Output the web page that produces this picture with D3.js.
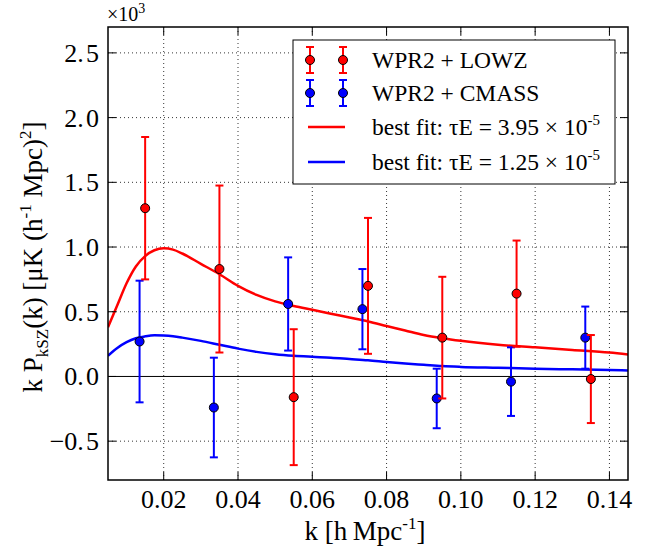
<!DOCTYPE html>
<html>
<head>
<meta charset="utf-8">
<script src="https://cdn.jsdelivr.net/npm/d3@7"></script>
<style>
  body { margin: 0; background: #fff; }
  svg text { font-family: "Liberation Serif", "Times New Roman", "DejaVu Serif", serif; fill: #000; }
</style>
</head>
<body>
<svg id="chart"></svg>
<script>
// ---- data (values in units of 10^3) ----
const kLowz = [0.015, 0.035, 0.055, 0.075, 0.095, 0.115, 0.135];
const pLowz = [1.30, 0.83, -0.16, 0.70, 0.30, 0.64, -0.02];
const eLowz = [0.55, 0.645, 0.525, 0.525, 0.47, 0.41, 0.34];

const kCmass = [0.0135, 0.0335, 0.0535, 0.0735, 0.0935, 0.1135, 0.1335];
const pCmass = [0.27, -0.24, 0.56, 0.52, -0.17, -0.04, 0.30];
const eCmass = [0.47, 0.385, 0.36, 0.31, 0.23, 0.265, 0.24];

// best-fit model curves
const kFit = [0.005, 0.0075, 0.010, 0.0125, 0.015, 0.0175, 0.020, 0.0225, 0.025, 0.030,
  0.035, 0.040, 0.045, 0.050, 0.055, 0.060, 0.065, 0.070, 0.075, 0.080,
  0.085, 0.090, 0.095, 0.100, 0.110, 0.120, 0.130, 0.140, 0.145];
const fitLowz = [0.38, 0.55, 0.72, 0.85, 0.93, 0.975, 0.99, 0.98, 0.95, 0.87,
  0.79, 0.70, 0.63, 0.58, 0.545, 0.515, 0.485, 0.455, 0.425, 0.39,
  0.355, 0.32, 0.295, 0.275, 0.245, 0.225, 0.205, 0.185, 0.17];
const fitCmass = [0.16, 0.22, 0.265, 0.295, 0.31, 0.318, 0.316, 0.31, 0.30, 0.275,
  0.245, 0.215, 0.19, 0.172, 0.16, 0.152, 0.145, 0.135, 0.125, 0.112,
  0.10, 0.09, 0.08, 0.074, 0.067, 0.06, 0.055, 0.05, 0.046];

const xTicks = [0.02, 0.04, 0.06, 0.08, 0.10, 0.12, 0.14];
const yTicks = [-0.5, 0.0, 0.5, 1.0, 1.5, 2.0, 2.5];

const config = {
  width: 659, height: 554,
  margin: { top: 27, right: 31, bottom: 74, left: 108 }
};
const W = config.width - config.margin.left - config.margin.right;
const H = config.height - config.margin.top - config.margin.bottom;
const SERIF = "'Liberation Serif', 'Times New Roman', 'DejaVu Serif', serif";

const svg = d3.select('#chart')
  .attr('width', config.width)
  .attr('height', config.height)
  .attr('font-family', SERIF);

const g = svg.append('g')
  .attr('transform', `translate(${config.margin.left},${config.margin.top})`);

const x = d3.scaleLinear().domain([0.005, 0.145]).range([0, W]);
const y = d3.scaleLinear().domain([-0.8, 2.7]).range([H, 0]);

// clip for plotted content
g.append('defs').append('clipPath').attr('id', 'clip')
  .append('rect').attr('width', W).attr('height', H);

// dotted grid
g.selectAll('.gx').data(xTicks).join('line')
  .attr('x1', d => x(d)).attr('x2', d => x(d))
  .attr('y1', 0).attr('y2', H)
  .attr('stroke', '#000').attr('stroke-width', 0.8)
  .attr('stroke-dasharray', '1,3');
g.selectAll('.gy').data(yTicks.filter(d => d !== 0)).join('line')
  .attr('y1', d => y(d)).attr('y2', d => y(d))
  .attr('x1', 0).attr('x2', W)
  .attr('stroke', '#000').attr('stroke-width', 0.8)
  .attr('stroke-dasharray', '1,3');

// zero line
g.append('line')
  .attr('x1', 0).attr('x2', W)
  .attr('y1', y(0)).attr('y2', y(0))
  .attr('stroke', '#000').attr('stroke-width', 1);

const plot = g.append('g').attr('clip-path', 'url(#clip)');

// model curves
const line = d3.line().x(d => x(d[0])).y(d => y(d[1])).curve(d3.curveMonotoneX);
plot.append('path')
  .datum(kFit.map((k, i) => [k, fitLowz[i]]))
  .attr('d', line).attr('fill', 'none')
  .attr('stroke', '#ff0000').attr('stroke-width', 2.5);
plot.append('path')
  .datum(kFit.map((k, i) => [k, fitCmass[i]]))
  .attr('d', line).attr('fill', 'none')
  .attr('stroke', '#0000ff').attr('stroke-width', 2.5);

// error bars + points
function drawSeries(ks, ps, es, color) {
  const data = ks.map((k, i) => ({ k: k, p: ps[i], e: es[i] }));
  const s = plot.append('g');
  s.selectAll('.bar').data(data).join('line')
    .attr('x1', d => x(d.k)).attr('x2', d => x(d.k))
    .attr('y1', d => y(d.p - d.e)).attr('y2', d => y(d.p + d.e))
    .attr('stroke', color).attr('stroke-width', 2);
  s.selectAll('.capt').data(data).join('line')
    .attr('x1', d => x(d.k) - 4).attr('x2', d => x(d.k) + 4)
    .attr('y1', d => y(d.p + d.e)).attr('y2', d => y(d.p + d.e))
    .attr('stroke', color).attr('stroke-width', 2);
  s.selectAll('.capb').data(data).join('line')
    .attr('x1', d => x(d.k) - 4).attr('x2', d => x(d.k) + 4)
    .attr('y1', d => y(d.p - d.e)).attr('y2', d => y(d.p - d.e))
    .attr('stroke', color).attr('stroke-width', 2);
  s.selectAll('circle').data(data).join('circle')
    .attr('cx', d => x(d.k)).attr('cy', d => y(d.p)).attr('r', 4.5)
    .attr('fill', color).attr('stroke', '#000').attr('stroke-width', 1);
}
drawSeries(kCmass, pCmass, eCmass, '#0000ff');
drawSeries(kLowz, pLowz, eLowz, '#ff0000');

// frame
g.append('rect').attr('width', W).attr('height', H)
  .attr('fill', 'none').attr('stroke', '#000').attr('stroke-width', 1.5);

// inward ticks on all sides
const tickLen = 8;
xTicks.forEach(t => {
  g.append('line').attr('x1', x(t)).attr('x2', x(t)).attr('y1', H).attr('y2', H - tickLen)
    .attr('stroke', '#000').attr('stroke-width', 1);
  g.append('line').attr('x1', x(t)).attr('x2', x(t)).attr('y1', 0).attr('y2', tickLen)
    .attr('stroke', '#000').attr('stroke-width', 1);
});
yTicks.forEach(t => {
  g.append('line').attr('y1', y(t)).attr('y2', y(t)).attr('x1', 0).attr('x2', tickLen)
    .attr('stroke', '#000').attr('stroke-width', 1);
  g.append('line').attr('y1', y(t)).attr('y2', y(t)).attr('x1', W).attr('x2', W - tickLen)
    .attr('stroke', '#000').attr('stroke-width', 1);
});

// tick labels
g.selectAll('.xl').data(xTicks).join('text')
  .attr('x', d => x(d)).attr('y', H + 28)
  .attr('text-anchor', 'middle').attr('font-size', 26)
  .text(d => d3.format('.2f')(d));
g.selectAll('.yl').data(yTicks).join('text')
  .attr('x', -9).attr('y', d => y(d) + 9)
  .attr('text-anchor', 'end').attr('font-size', 26)
  .text(d => (d < 0 ? '\u2212' : '') + d3.format('.1f')(Math.abs(d)).replace('.', '.\u200a'));

// multiplier
const mult = svg.append('text').attr('x', 107).attr('y', 21).attr('font-size', 20);
mult.append('tspan').text('\u00d710');
mult.append('tspan').attr('font-size', 14).attr('dy', -8).text('3');

// x label
const xl = svg.append('text')
  .attr('x', config.margin.left + W / 2 - 3).attr('y', 540)
  .attr('text-anchor', 'middle').attr('font-size', 27);
xl.append('tspan').text('k [h\u2009Mpc');
xl.append('tspan').attr('font-size', 17).attr('dy', -11).text('-1');
xl.append('tspan').attr('dy', 11).text(']');

// y label
const yl = svg.append('text')
  .attr('transform', `translate(42,257) rotate(-90)`)
  .attr('text-anchor', 'middle').attr('font-size', 27);
yl.append('tspan').text('k P');
yl.append('tspan').attr('font-size', 17).attr('dy', 6).text('kSZ');
yl.append('tspan').attr('dy', -6).text('(k) [\u03bcK (h');
yl.append('tspan').attr('font-size', 17).attr('dy', -11).text('-1');
yl.append('tspan').attr('dy', 11).text(' Mpc)');
yl.append('tspan').attr('font-size', 17).attr('dy', -11).text('2');
yl.append('tspan').attr('dy', 11).text(']');

// legend
const lg = svg.append('g');
lg.append('rect').attr('x', 293).attr('y', 40).attr('width', 322).attr('height', 144)
  .attr('fill', '#fff').attr('stroke', '#000').attr('stroke-width', 1);

const legendRows = [
  { type: 'pt', color: '#ff0000', label: 'WPR2 + LOWZ' },
  { type: 'pt', color: '#0000ff', label: 'WPR2 + CMASS' },
  { type: 'ln', color: '#ff0000', label: 'best fit: \u03c4E = 3.95 \u00d7 10', sup: '-5' },
  { type: 'ln', color: '#0000ff', label: 'best fit: \u03c4E = 1.25 \u00d7 10', sup: '-5' }
];
const rowY = [60, 93, 127, 162];
legendRows.forEach((r, i) => {
  const cy = rowY[i];
  if (r.type === 'pt') {
    [310, 343].forEach(cx => {
      lg.append('line').attr('x1', cx).attr('x2', cx).attr('y1', cy - 13).attr('y2', cy + 13)
        .attr('stroke', r.color).attr('stroke-width', 2);
      lg.append('line').attr('x1', cx - 4).attr('x2', cx + 4).attr('y1', cy - 13).attr('y2', cy - 13)
        .attr('stroke', r.color).attr('stroke-width', 2);
      lg.append('line').attr('x1', cx - 4).attr('x2', cx + 4).attr('y1', cy + 13).attr('y2', cy + 13)
        .attr('stroke', r.color).attr('stroke-width', 2);
      lg.append('circle').attr('cx', cx).attr('cy', cy).attr('r', 4.5)
        .attr('fill', r.color).attr('stroke', '#000').attr('stroke-width', 1);
    });
  } else {
    lg.append('line').attr('x1', 308).attr('x2', 345).attr('y1', cy).attr('y2', cy)
      .attr('stroke', r.color).attr('stroke-width', 2.5);
  }
  const t = lg.append('text').attr('x', 372).attr('y', cy + 8).attr('font-size', 23.5);
  t.append('tspan').text(r.label);
  if (r.sup) t.append('tspan').attr('font-size', 15).attr('dy', -10).text(r.sup);
});
</script>
</body>
</html>
